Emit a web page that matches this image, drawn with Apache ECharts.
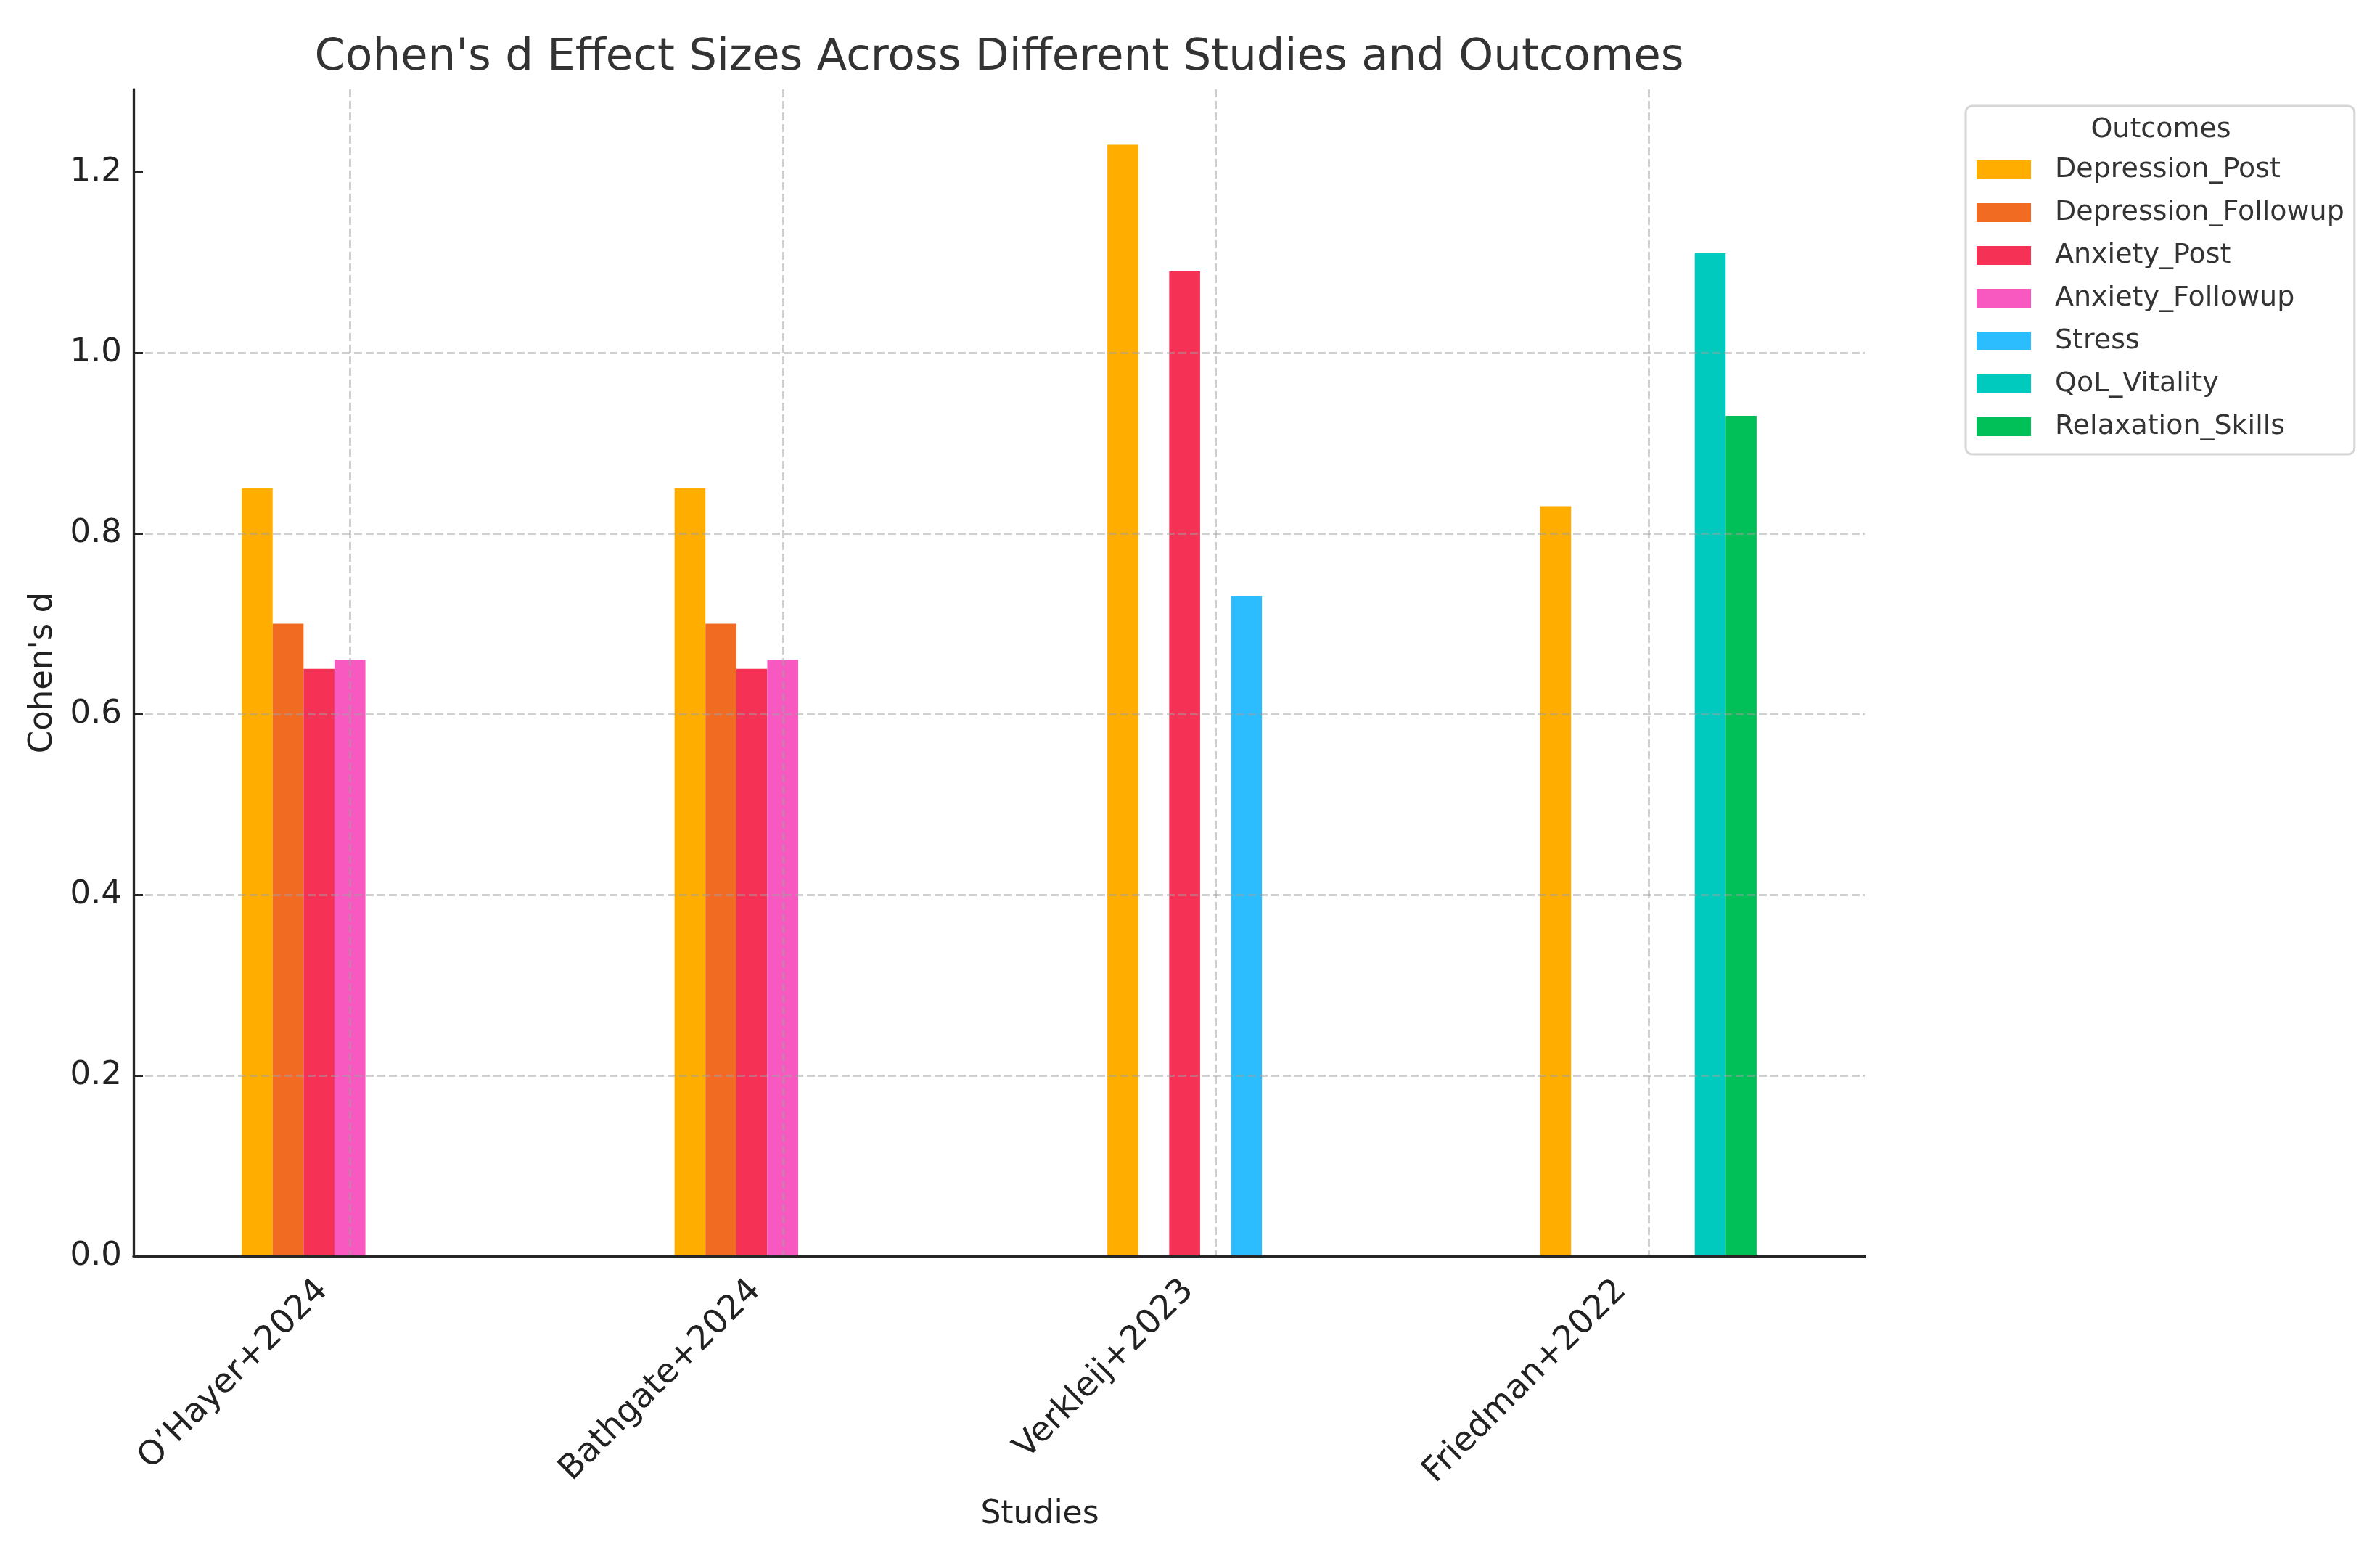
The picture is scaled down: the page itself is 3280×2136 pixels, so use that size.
<!DOCTYPE html>
<html>
<head>
<meta charset="utf-8">
<title>Cohen's d Effect Sizes</title>
<script src="https://cdn.jsdelivr.net/npm/echarts@6/dist/echarts.min.js"></script>
<style>
  html, body { margin: 0; padding: 0; background: #fff; }
  #chart { width: 3280px; height: 2136px; }
</style>
</head>
<body>
<div id="chart"></div>
<script>
// studies on the x axis
const studies = ['O\u2019Hayer+2024', 'Bathgate+2024', 'Verkleij+2023', 'Friedman+2022'];

// one array per outcome, null = not reported
const depressionPost = [0.85, 0.85, 1.23, 0.83];
const depressionFollowup = [0.70, 0.70, null, null];
const anxietyPost = [0.65, 0.65, 1.09, null];
const anxietyFollowup = [0.66, 0.66, null, null];
const stress = [null, null, 0.73, null];
const qolVitality = [null, null, null, 1.11];
const relaxationSkills = [null, null, null, 0.93];

const yTicks = [0, 0.2, 0.4, 0.6, 0.8, 1.0, 1.2];

const outcomes = [
  { name: 'Depression_Post', data: depressionPost, color: '#ffae00' },
  { name: 'Depression_Followup', data: depressionFollowup, color: '#f26b22' },
  { name: 'Anxiety_Post', data: anxietyPost, color: '#f53256' },
  { name: 'Anxiety_Followup', data: anxietyFollowup, color: '#f859c0' },
  { name: 'Stress', data: stress, color: '#2bbdfd' },
  { name: 'QoL_Vitality', data: qolVitality, color: '#00c9be' },
  { name: 'Relaxation_Skills', data: relaxationSkills, color: '#00c057' }
];

const font = 'DejaVu Sans';
const gridLine = { color: 'rgba(160,160,160,0.5)', width: 3, type: [11, 5] };

const getOption = () => {
  return {
    animation: false,
    backgroundColor: '#fff',
    textStyle: { fontFamily: font },
    title: [
      {
        text: "Cohen's d Effect Sizes Across Different Studies and Outcomes",
        left: 1377,
        top: 50,
        padding: 0,
        textAlign: 'center',
        textStyle: { fontFamily: font, fontSize: 61, fontWeight: 'normal', color: '#333' }
      },
      {
        text: 'Outcomes',
        left: 2978,
        top: 160,
        padding: 0,
        textAlign: 'center',
        z: 10,
        textStyle: { fontFamily: font, fontSize: 38, fontWeight: 'normal', color: '#333' }
      }
    ],
    legend: {
      orient: 'vertical',
      left: 2709,
      top: 146,
      padding: [68, 14, 18, 15],
      itemWidth: 75,
      itemHeight: 26,
      itemGap: 19,
      icon: 'rect',
      backgroundColor: '#fff',
      borderColor: '#d6d6d6',
      borderWidth: 3,
      borderRadius: 9,
      textStyle: { fontFamily: font, fontSize: 38, color: '#333', lineHeight: 40, padding: [0, 0, 0, 28] },
      data: outcomes.map(o => o.name)
    },
    grid: { left: 184, right: 710, top: 123, bottom: 405 },
    xAxis: {
      type: 'category',
      data: studies,
      z: 3,
      name: 'Studies',
      nameLocation: 'middle',
      nameGap: 335,
      nameTextStyle: { fontFamily: font, fontSize: 44, color: '#222', padding: [0, 0, 0, 112] },
      axisLine: { lineStyle: { color: '#262626', width: 3.3 } },
      axisTick: { alignWithLabel: true, inside: true, length: 13, lineStyle: { color: '#262626', width: 3 } },
      // right padding pulls the rotated label left, like matplotlib's ha='right'
      axisLabel: { rotate: 45, margin: 3, fontFamily: font, fontSize: 46.5, color: '#222', padding: [0, 53, 0, 0] },
      splitLine: { show: true, alignWithLabel: true, lineStyle: gridLine }
    },
    yAxis: {
      type: 'value',
      min: 0,
      max: 1.2915,
      interval: 0.2,
      z: 3,
      name: "Cohen's d",
      nameLocation: 'middle',
      nameGap: 102,
      nameTextStyle: { fontFamily: font, fontSize: 45, color: '#222' },
      axisLine: { show: true, lineStyle: { color: '#262626', width: 3.3 } },
      axisTick: { show: true, inside: true, length: 13, customValues: yTicks, lineStyle: { color: '#262626', width: 3 } },
      axisLabel: {
        margin: 16,
        fontFamily: font,
        fontSize: 45,
        color: '#222',
        customValues: yTicks,
        formatter: v => v.toFixed(1)
      },
      splitLine: { show: true, showMinLine: false, showMaxLine: false, lineStyle: gridLine }
    },
    series: outcomes.map(o => ({
      name: o.name,
      type: 'bar',
      data: o.data,
      barGap: '0%',
      barCategoryGap: '50%',
      itemStyle: { color: o.color }
    }))
  };
};

const initChart = () => {
  const chart = echarts.init(document.getElementById('chart'));
  chart.setOption(getOption());
};

window.addEventListener('load', () => {
  initChart();
});
</script>
</body>
</html>
